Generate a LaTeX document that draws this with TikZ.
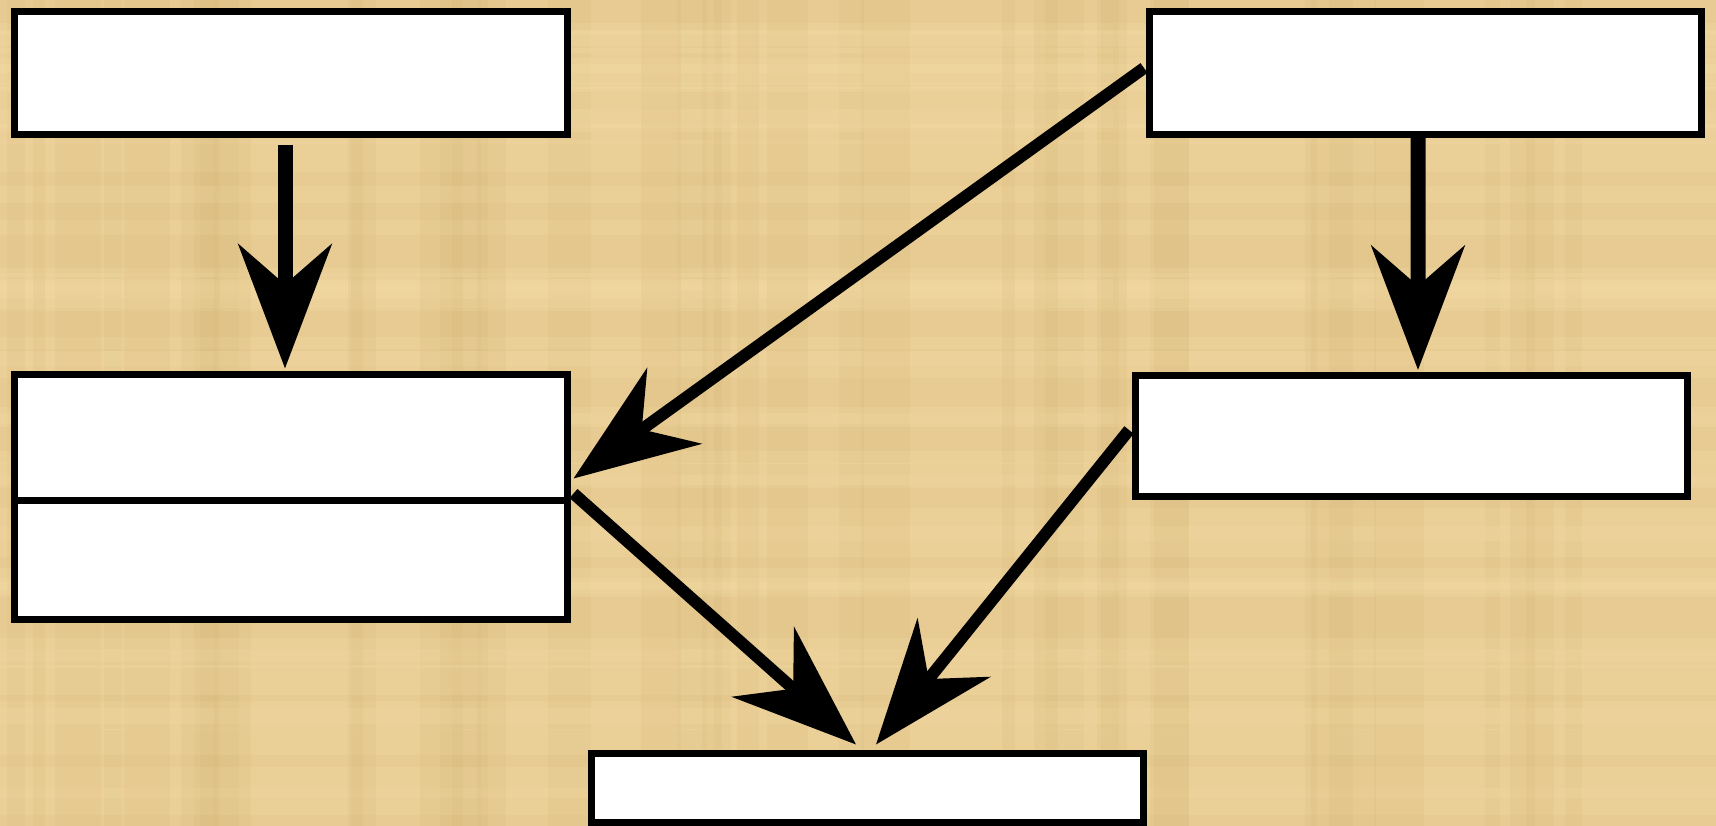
\documentclass[tikz,border=0pt]{standalone}
\usetikzlibrary{arrows.meta,calc}
\definecolor{papyrus}{RGB}{231,203,146}
\definecolor{papyruslight}{RGB}{246,224,170}
\definecolor{papyrusdark}{RGB}{214,182,120}
\begin{document}
\begin{tikzpicture}[x=1bp, y=-1bp,
        box/.style={draw, fill=white, line width=7bp, inner sep=0pt, minimum width=552bp},
        arr/.style={line width=#1, -{Stealth[length=124bp, width=93bp, inset=40bp]}},
        arr/.default=12bp]
        \useasboundingbox (0,0) rectangle (1716,826);
        \begin{scope}
            \clip (0,0) rectangle (1716,826);
            \fill[papyrus] (0,0) rectangle (1716,826);
            \pgfmathsetseed{7}
            \foreach \i in {1,...,40} {
                \pgfmathsetmacro{\px}{rnd*1700}
                \pgfmathsetmacro{\pw}{10+rnd*40}
                \fill[papyrusdark, opacity=0.18] (\px,0) rectangle ++(\pw,826);
                \pgfmathsetmacro{\py}{rnd*800}
                \pgfmathsetmacro{\ph}{8+rnd*25}
                \fill[papyruslight, opacity=0.2] (0,\py) rectangle ++(1716,\ph);
            }
        \end{scope}
        \node[box, minimum height=123bp] (top left) at (291,73) {};
        \node[box, minimum height=123bp] (top right) at (1425.5,73) {};
        \node[box, minimum height=126bp] (mid upper) at (291,437) {};
        \node[box, minimum height=119bp] (mid lower) at (291,559.5) {};
        \node[box, minimum height=121bp] (mid right) at (1411.5,436) {};
        \node[box, minimum height=69bp] (bottom) at (867,788) {};
        \draw[arr=15bp] ($(top left.south)+(-6,7)$) -- ($(mid upper.north)+(-6,-2)$);
        \draw[arr=15bp] ($(top right.south)+(-7.5,-6)$) -- ($(mid right.north)+(6.5,-2)$);
        \draw[arr] ($(top right.west)+(-2,-5)$) -- ($(mid upper.south east)+(3,-25)$);
        \draw[arr] ($(mid upper.south east)+(3,-10)$) -- ($(bottom.north)+(-11,-5.5)$);
        \draw[arr] ($(mid right.west)+(-3,-6)$) -- ($(bottom.north)+(9,-5.5)$);
    \end{tikzpicture}
\end{document}
